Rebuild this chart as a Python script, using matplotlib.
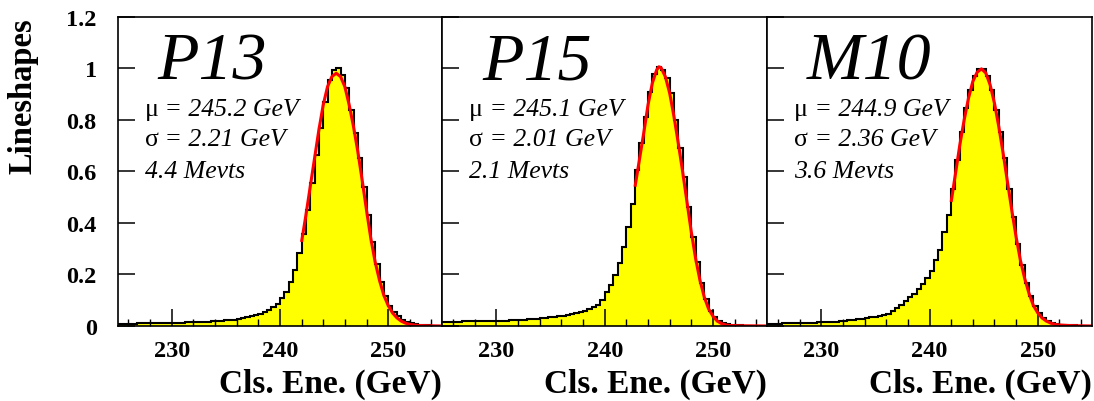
import numpy as np
import matplotlib
matplotlib.use('Agg')
import matplotlib.pyplot as plt
from matplotlib.ticker import MultipleLocator, FixedLocator, FixedFormatter

plt.rcParams['font.family'] = ['Liberation Serif', 'DejaVu Serif']

# bin edges of the histograms (0.4 GeV bins)
edges = np.linspace(224.8, 255.2, 77)

# bin contents, centres 225.0 ... 255.0
p13_vals = [0.008, 0.008, 0.009, 0.009, 0.009, 0.010, 0.010, 0.010, 0.011, 0.011,
            0.011, 0.012, 0.012, 0.012, 0.013, 0.013, 0.014, 0.014, 0.015, 0.016,
            0.016, 0.017, 0.018, 0.019, 0.020, 0.022, 0.023, 0.025, 0.027, 0.030,
            0.033, 0.037, 0.042, 0.048, 0.055, 0.063,
            0.073, 0.086, 0.108, 0.131, 0.170, 0.219, 0.283, 0.358, 0.449, 0.553,
            0.663, 0.767, 0.870, 0.953, 0.993, 1.000, 0.974, 0.922, 0.838, 0.747,
            0.650, 0.540, 0.429, 0.326, 0.241, 0.172, 0.115, 0.079, 0.053, 0.038,
            0.025, 0.016, 0.010, 0.006, 0.004, 0.003, 0.002, 0.001, 0.001, 0.001]

p15_vals = [0.016, 0.016, 0.017, 0.017, 0.017, 0.018, 0.018, 0.018, 0.018, 0.019,
            0.019, 0.019, 0.019, 0.020, 0.021, 0.021, 0.022, 0.023, 0.024, 0.025,
            0.026, 0.027, 0.029, 0.030, 0.032, 0.033, 0.035, 0.037, 0.039, 0.042,
            0.045, 0.049, 0.054, 0.060, 0.066, 0.073,
            0.083, 0.099, 0.131, 0.160, 0.198, 0.245, 0.306, 0.384, 0.472, 0.604,
            0.708, 0.812, 0.909, 0.977, 1.003, 0.994, 0.961, 0.903, 0.799, 0.689,
            0.578, 0.462, 0.345, 0.248, 0.167, 0.105, 0.060, 0.035, 0.020, 0.012,
            0.007, 0.004, 0.003, 0.002, 0.001, 0.001, 0.001, 0.0, 0.0, 0.0]

m10_vals = [0.008, 0.008, 0.009, 0.009, 0.010, 0.010, 0.011, 0.011, 0.012, 0.012,
            0.013, 0.013, 0.014, 0.014, 0.015, 0.016, 0.017, 0.019, 0.020, 0.022,
            0.024, 0.026, 0.028, 0.030, 0.033, 0.036, 0.039, 0.043, 0.048, 0.058,
            0.070, 0.083, 0.096, 0.111, 0.124, 0.144,
            0.163, 0.185, 0.215, 0.254, 0.296, 0.364, 0.429, 0.530, 0.643, 0.754,
            0.844, 0.916, 0.968, 0.996, 0.996, 0.968, 0.916, 0.838, 0.754, 0.650,
            0.533, 0.423, 0.319, 0.235, 0.167, 0.115, 0.077, 0.049, 0.031, 0.020,
            0.012, 0.008, 0.005, 0.003, 0.002, 0.002, 0.001, 0.001, 0.001, 0.0]

# fitted curves (red)
p13_fit_x = [242.0, 242.4, 242.8, 243.2, 243.6, 244.0, 244.4, 244.8, 245.2, 245.6,
             246.0, 246.4, 246.8, 247.2, 247.6, 248.0, 248.4, 248.8, 249.2, 249.6,
             250.0, 250.4, 250.8, 251.2, 251.6, 252.0, 252.8, 253.6, 255.0]
p13_fit_y = [0.326, 0.429, 0.540, 0.650, 0.760, 0.857, 0.928, 0.967, 0.980, 0.967,
             0.928, 0.857, 0.773, 0.676, 0.565, 0.449, 0.339, 0.248, 0.177, 0.119,
             0.080, 0.051, 0.032, 0.019, 0.011, 0.006, 0.002, 0.001, 0.0]

p15_fit_x = [242.8, 243.2, 243.6, 244.0, 244.4, 244.8, 245.0, 245.2, 245.6, 246.0,
             246.4, 246.8, 247.2, 247.6, 248.0, 248.4, 248.8, 249.2, 249.6, 250.0,
             250.4, 250.8, 251.2, 251.6, 252.4, 255.0]
p15_fit_y = [0.540, 0.643, 0.747, 0.857, 0.942, 0.993, 1.005, 1.002, 0.967, 0.903,
             0.812, 0.708, 0.598, 0.481, 0.364, 0.261, 0.177, 0.112, 0.066, 0.038,
             0.019, 0.009, 0.004, 0.002, 0.001, 0.0]

m10_fit_x = [242.0, 242.4, 242.8, 243.2, 243.6, 244.0, 244.4, 244.8, 245.2, 245.6,
             246.0, 246.4, 246.8, 247.2, 247.6, 248.0, 248.4, 248.8, 249.2, 249.6,
             250.0, 250.4, 250.8, 251.2, 251.6, 252.0, 252.8, 253.6, 255.0]
m10_fit_y = [0.481, 0.591, 0.702, 0.799, 0.883, 0.948, 0.984, 0.997, 0.981, 0.935,
             0.864, 0.773, 0.670, 0.559, 0.449, 0.345, 0.254, 0.183, 0.125, 0.079,
             0.051, 0.031, 0.019, 0.011, 0.006, 0.004, 0.002, 0.001, 0.0]

names = ['P13', 'P15', 'M10']
mu_vals = ['245.2', '245.1', '244.9']
sigma_vals = ['2.21', '2.01', '2.36']
nevts = ['4.4', '2.1', '3.6']

yticks = [0, 0.2, 0.4, 0.6, 0.8, 1, 1.2]
ytick_labels = ['0', '0.2', '0.4', '0.6', '0.8', '1', '1.2']

fig = plt.figure(figsize=(10.94, 4.02), dpi=100)
W, H = 1094.0, 402.0
pw = 324.8

panels = [(p13_vals, p13_fit_x, p13_fit_y),
          (p15_vals, p15_fit_x, p15_fit_y),
          (m10_vals, m10_fit_x, m10_fit_y)]

for i, (vals, fx, fy) in enumerate(panels):
    ax = fig.add_axes([(117.5 + i * pw) / W, 75 / H, pw / W, 309.5 / H])
    ax.stairs(vals, edges, fill=True, color='#ffff00', lw=0)
    ax.stairs(vals, edges, baseline=None, color='black', lw=1.5)
    ax.plot(fx, fy, color='red', lw=2.2, solid_capstyle='butt')

    ax.set_xlim(225, 255)
    ax.set_ylim(0, 1.2)
    ax.xaxis.set_major_locator(FixedLocator([230, 240, 250]))
    ax.xaxis.set_minor_locator(MultipleLocator(2))
    ax.yaxis.set_major_locator(FixedLocator(yticks))
    ax.yaxis.set_major_formatter(FixedFormatter(ytick_labels))
    ax.tick_params(which='both', direction='in', top=False, right=False, colors='black')
    ax.tick_params(which='major', length=12, width=1.1)
    ax.tick_params(which='minor', length=5, width=1.0)
    ax.tick_params(axis='x', pad=10, labelsize=17.5)
    ax.tick_params(axis='y', pad=15, labelsize=17.5, labelleft=(i == 0))
    for lab in ax.get_xticklabels() + ax.get_yticklabels():
        lab.set_fontweight('bold')
    for sp in ax.spines.values():
        sp.set_linewidth(1.2)

    ax.set_xlabel('Cls. Ene. (GeV)', loc='right', fontsize=24, fontweight='bold', labelpad=5)

    ax.text(228.7, 0.961, names[i], fontsize=49, style='italic', va='baseline')
    t1 = ax.text(227.5, 0.818, '\u03bc', fontsize=18.5, va='baseline')
    ax.annotate(' = ' + mu_vals[i] + ' GeV', xy=(1, 0), xycoords=t1, fontsize=18.5,
                style='italic', ha='left', va='bottom')
    t2 = ax.text(227.5, 0.701, '\u03c3', fontsize=18.5, va='baseline')
    ax.annotate(' = ' + sigma_vals[i] + ' GeV', xy=(1, 0), xycoords=t2, fontsize=18.5,
                style='italic', ha='left', va='bottom')
    ax.text(227.5, 0.578, nevts[i] + ' Mevts', fontsize=18.5, style='italic', va='baseline')

fig.text(23 / W, 1 - 18 / H, 'Lineshapes', rotation=90, ha='center', va='top',
         fontsize=23.5, fontweight='bold')

fig.savefig('out.png', dpi=100)
